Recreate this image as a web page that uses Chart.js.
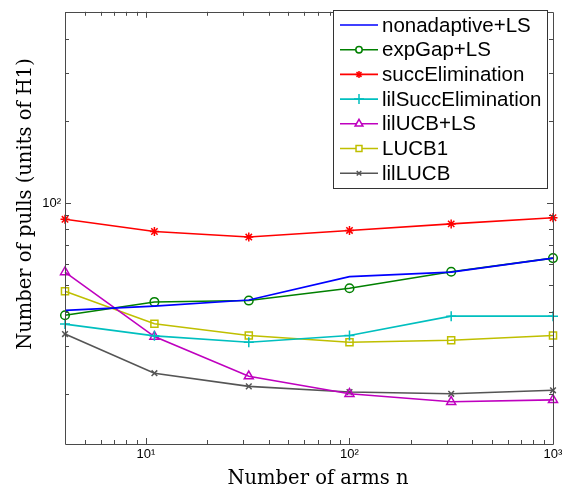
<!DOCTYPE html>
<html>
<head>
<meta charset="utf-8">
<script src="https://cdn.jsdelivr.net/npm/chart.js@4/dist/chart.umd.min.js"></script>
<style>
  html, body { margin: 0; padding: 0; background: #fff; }
  #wrap { width: 574px; height: 491px; position: relative; }
</style>
</head>
<body>
<div id="wrap"><canvas id="grafica"></canvas></div>
<script>
// datos
const nArms = [4, 11, 32, 100, 316, 1000];

const nonadaptive = [40.4, 41.9, 44.1, 53.7, 55.8, 62.8];
const expGap      = [38.8, 43.4, 43.9, 48.7, 56.0, 62.8];
const succElim    = [87.1, 78.6, 75.0, 79.3, 83.8, 88.3];
const lilSucc     = [36.0, 32.6, 30.9, 32.7, 38.5, 38.5];
const lilUCB      = [55.8, 32.4, 23.2, 20.0, 18.7, 19.0];
const lucb1       = [47.5, 36.1, 32.7, 30.9, 31.4, 32.7];
const lilLUCB     = [33.1, 23.8, 21.3, 20.3, 20.0, 20.6];

const seriesNames = ["nonadaptive+LS", "expGap+LS", "succElimination", "lilSuccElimination", "lilUCB+LS", "LUCB1", "lilLUCB"];

const xTickLabels = { 10: "10\u00B9", 100: "10\u00B2", 1000: "10\u00B3" };
const yTickLabels = { 100: "10\u00B2" };

const xMin = 4, xMax = 1000;
const yMin = 13.1, yMax = 501;

const axisColor = "#4a4a4a";

function pares(vals) {
  return nArms.map((n, i) => ({ x: n, y: vals[i] }));
}

// estilo de cada serie: color, marcador, tamaño en grafica y en leyenda
const estilos = [
  { color: "#0000ff", marker: false,      r: 0,   rl: 0 },
  { color: "#008000", marker: "circle",   r: 4.3, rl: 3.2 },
  { color: "#ff0000", marker: "star",     r: 4.5, rl: 3.5 },
  { color: "#00bfbf", marker: "cross",    r: 5,   rl: 5 },
  { color: "#bf00bf", marker: "triangle", r: 5.2, rl: 4.5 },
  { color: "#bfbf00", marker: "rect",     r: 5,   rl: 4.2 },
  { color: "#555555", marker: "crossRot", r: 4,   rl: 3.2 }
];

const valores = [nonadaptive, expGap, succElim, lilSucc, lilUCB, lucb1, lilLUCB];

const datasets = valores.map((vals, i) => {
  const e = estilos[i];
  return {
    label: seriesNames[i],
    data: pares(vals),
    borderColor: e.color,
    backgroundColor: "rgba(0,0,0,0)",
    borderWidth: 1.6,
    pointStyle: e.marker,
    pointRadius: e.r,
    pointBorderWidth: 1.5,
    pointBorderColor: e.color,
    pointBackgroundColor: "rgba(0,0,0,0)",
    tension: 0,
    fill: false,
    clip: false
  };
});

// marcas de ejes hacia adentro (mayores y menores) y el marco
function valoresLog(min, max) {
  const out = [];
  for (let d = Math.pow(10, Math.floor(Math.log10(min))); d <= max; d *= 10) {
    for (let k = 1; k <= 9; k++) {
      const v = k * d;
      if (v > min * 1.0001 && v < max * 0.9999) out.push({ v: v, major: k === 1 });
    }
  }
  return out;
}

const marcoEjes = {
  id: "marcoEjes",
  afterDatasetsDraw(chart) {
    const ctx = chart.ctx;
    const a = chart.chartArea;
    const sx = chart.scales.x, sy = chart.scales.y;
    ctx.save();
    ctx.strokeStyle = axisColor;
    ctx.lineWidth = 1;
    ctx.beginPath();
    ctx.rect(Math.round(a.left) + 0.5, Math.round(a.top) + 0.5,
             Math.round(a.right - a.left), Math.round(a.bottom - a.top));
    ctx.stroke();

    ctx.beginPath();
    valoresLog(xMin, xMax).forEach(t => {
      const px = Math.round(sx.getPixelForValue(t.v)) + 0.5;
      const len = t.major ? 6 : 4;
      ctx.moveTo(px, a.bottom); ctx.lineTo(px, a.bottom - len);
      ctx.moveTo(px, a.top); ctx.lineTo(px, a.top + len);
    });
    valoresLog(yMin, yMax).forEach(t => {
      const py = Math.round(sy.getPixelForValue(t.v)) + 0.5;
      const len = t.major ? 6 : 4;
      ctx.moveTo(a.left, py); ctx.lineTo(a.left + len, py);
      ctx.moveTo(a.right, py); ctx.lineTo(a.right - len, py);
    });
    ctx.stroke();
    ctx.restore();
  }
};

// leyenda dibujada a mano: linea + marcador como en la figura
const leyenda = {
  id: "leyenda",
  afterDraw(chart) {
    const ctx = chart.ctx;
    const bx = 333.5, by = 10.5, bw = 214, bh = 178;
    ctx.save();
    ctx.fillStyle = "#ffffff";
    ctx.fillRect(bx, by, bw, bh);
    ctx.strokeStyle = "#333333";
    ctx.lineWidth = 1;
    ctx.strokeRect(bx, by, bw, bh);

    ctx.font = "20.5px 'Liberation Sans', Arial, sans-serif";
    ctx.textBaseline = "middle";
    ctx.textAlign = "left";
    chart.data.datasets.forEach((ds, i) => {
      const e = estilos[i];
      const y = 25 + i * 24.7;
      ctx.strokeStyle = ds.borderColor;
      ctx.lineWidth = 1.6;
      ctx.beginPath();
      ctx.moveTo(340, y); ctx.lineTo(378, y);
      ctx.stroke();
      if (e.marker) {
        ctx.lineWidth = 1.5;
        ctx.fillStyle = "#ffffff";
        Chart.helpers.drawPoint(ctx, {
          pointStyle: e.marker, radius: e.rl, borderWidth: 1.5, rotation: 0
        }, 359, y);
      }
      ctx.fillStyle = "#000000";
      ctx.fillText(ds.label, 382, y + 1);
    });
    ctx.restore();
  }
};

// titulos de ejes en fuente serif
const titulos = {
  id: "titulos",
  afterDraw(chart) {
    const ctx = chart.ctx;
    ctx.save();
    ctx.fillStyle = "#000000";
    ctx.font = "19.5px 'DejaVu Serif', serif";
    ctx.textAlign = "center";
    ctx.textBaseline = "alphabetic";
    ctx.fillText("Number of arms n", 318, 484);

    ctx.translate(31, 204);
    ctx.rotate(-Math.PI / 2);
    ctx.fillText("Number of pulls (units of H1)", 0, 0);
    ctx.restore();
  }
};

const ctx = document.getElementById("grafica").getContext("2d");
const grafica = new Chart(ctx, {
  type: "line",
  data: { datasets: datasets },
  options: {
    responsive: true,
    maintainAspectRatio: false,
    animation: false,
    devicePixelRatio: 1,
    layout: { padding: { top: 5, right: 21, left: 0, bottom: 0 } },
    plugins: {
      legend: { display: false },
      tooltip: { enabled: false }
    },
    scales: {
      x: {
        type: "logarithmic",
        min: xMin,
        max: xMax,
        grid: { display: false, drawTicks: false },
        border: { display: false },
        ticks: {
          autoSkip: false,
          maxRotation: 0,
          padding: 3,
          color: "#000",
          font: { family: "'Liberation Sans', Arial, sans-serif", size: 13 },
          callback: (v) => xTickLabels[Math.round(v)] || ""
        },
        afterFit: (s) => { s.height = 47; }
      },
      y: {
        type: "logarithmic",
        min: yMin,
        max: yMax,
        grid: { display: false, drawTicks: false },
        border: { display: false },
        ticks: {
          autoSkip: false,
          padding: 4,
          color: "#000",
          font: { family: "'Liberation Sans', Arial, sans-serif", size: 13 },
          callback: (v) => yTickLabels[Math.round(v)] || ""
        },
        afterFit: (s) => { s.width = 65; }
      }
    }
  },
  plugins: [marcoEjes, leyenda, titulos]
});
</script>
</body>
</html>
